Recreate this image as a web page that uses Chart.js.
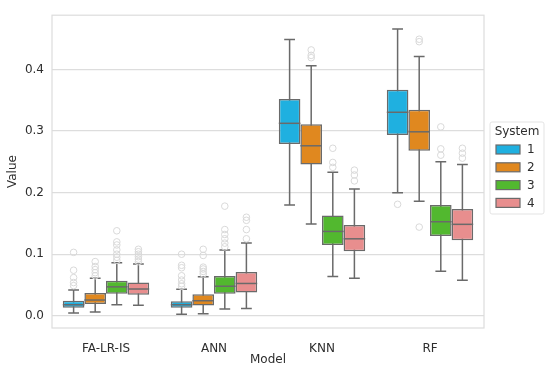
<!DOCTYPE html>
<html>
<head>
<meta charset="utf-8">
<script src="https://cdn.jsdelivr.net/npm/chart.js@4/dist/chart.umd.min.js"></script>
<style>
    html, body { margin: 0; padding: 0; background: #fff; }
    #wrap { width: 550px; height: 371px; }
</style>
</head>
<body>
<div id="wrap"><canvas id="chart"></canvas></div>
<script>
// categories and series
const models = ['FA-LR-IS', 'ANN', 'KNN', 'RF'];
const systems = ['1', '2', '3', '4'];
const yTicks = [0.0, 0.1, 0.2, 0.3, 0.4];

// box stats per system: [whiskerLow, q1, median, q3, whiskerHigh] for each model
const sys1Stats = [
    [0.0045, 0.013, 0.018, 0.0245, 0.042],
    [0.0024, 0.013, 0.018, 0.0235, 0.043],
    [0.180, 0.279, 0.3125, 0.352, 0.4486],
    [0.1997, 0.2935, 0.3304, 0.3668, 0.4655]
];
const sys2Stats = [
    [0.006, 0.019, 0.0256, 0.037, 0.061],
    [0.0035, 0.0166, 0.0245, 0.035, 0.0636],
    [0.149, 0.2455, 0.276, 0.311, 0.406],
    [0.186, 0.268, 0.2987, 0.3346, 0.421]
];
const sys3Stats = [
    [0.018, 0.036, 0.047, 0.057, 0.086],
    [0.011, 0.036, 0.048, 0.0646, 0.107],
    [0.064, 0.115, 0.137, 0.1627, 0.233],
    [0.0725, 0.1295, 0.1527, 0.180, 0.250]
];
const sys4Stats = [
    [0.017, 0.034, 0.0435, 0.054, 0.084],
    [0.012, 0.038, 0.0525, 0.071, 0.118],
    [0.061, 0.1047, 0.125, 0.1475, 0.206],
    [0.0578, 0.1226, 0.1485, 0.1733, 0.2456]
];

// outliers per system, per model
const sys1Outliers = [
    [0.049, 0.054, 0.062, 0.074, 0.103],
    [0.048, 0.052, 0.058, 0.065, 0.078, 0.082, 0.100],
    [],
    [0.181]
];
const sys2Outliers = [
    [0.065, 0.070, 0.075, 0.080, 0.088],
    [0.068, 0.072, 0.076, 0.079, 0.098, 0.108],
    [0.419, 0.4228, 0.4316],
    [0.144, 0.445, 0.449]
];
const sys3Outliers = [
    [0.090, 0.095, 0.100, 0.107, 0.115, 0.120, 0.138],
    [0.112, 0.118, 0.125, 0.132, 0.140, 0.178],
    [0.241, 0.249, 0.272],
    [0.2608, 0.271, 0.3067]
];
const sys4Outliers = [
    [0.088, 0.092, 0.096, 0.100, 0.104, 0.108],
    [0.125, 0.140, 0.155, 0.160],
    [0.219, 0.2286, 0.2365],
    [0.256, 0.264, 0.272]
];

const allStats = [sys1Stats, sys2Stats, sys3Stats, sys4Stats];
const allOutliers = [sys1Outliers, sys2Outliers, sys3Outliers, sys4Outliers];
const colors = ['#1fb0e0', '#e0881f', '#52b82f', '#e88e8e'];
const edge = '#6a6a6a';
const textColor = '#2e2e2e';
const font = 'DejaVu Sans';

const datasets = systems.map((s, i) => ({
    label: s,
    data: allStats[i].map(st => [st[1], st[3]]),
    backgroundColor: colors[i],
    borderColor: edge,
    borderWidth: 1.5,
    borderSkipped: false,
    categoryPercentage: 0.8,
    barPercentage: 1.0
}));

// whiskers, medians, outliers, frame and legend
const boxPlugin = {
    id: 'boxExtras',
    beforeDatasetsDraw(chart) {
        const { ctx } = chart;
        const y = chart.scales.y;
        ctx.save();
        ctx.lineWidth = 1.5;
        ctx.strokeStyle = edge;
        // whiskers go behind the boxes
        chart.data.datasets.forEach((ds, di) => {
            chart.getDatasetMeta(di).data.forEach((bar, j) => {
                const st = allStats[di][j];
                const half = bar.width / 4;
                const lo = y.getPixelForValue(st[0]);
                const hi = y.getPixelForValue(st[4]);
                ctx.beginPath();
                ctx.moveTo(bar.x, lo);
                ctx.lineTo(bar.x, hi);
                ctx.moveTo(bar.x - half, lo);
                ctx.lineTo(bar.x + half, lo);
                ctx.moveTo(bar.x - half, hi);
                ctx.lineTo(bar.x + half, hi);
                ctx.stroke();
            });
        });
        ctx.restore();
    },
    afterDatasetsDraw(chart) {
        const { ctx, chartArea: a } = chart;
        const y = chart.scales.y;
        ctx.save();
        chart.data.datasets.forEach((ds, di) => {
            chart.getDatasetMeta(di).data.forEach((bar, j) => {
                const st = allStats[di][j];
                const w = bar.width;
                ctx.strokeStyle = edge;
                ctx.lineWidth = 1.5;
                ctx.beginPath();
                ctx.moveTo(bar.x - w / 2, y.getPixelForValue(st[2]));
                ctx.lineTo(bar.x + w / 2, y.getPixelForValue(st[2]));
                ctx.stroke();
                ctx.strokeStyle = '#d9d9d9';
                ctx.lineWidth = 1;
                allOutliers[di][j].forEach(v => {
                    ctx.beginPath();
                    ctx.arc(bar.x, y.getPixelForValue(v), 3.3, 0, Math.PI * 2);
                    ctx.stroke();
                });
            });
        });
        // axes frame
        ctx.strokeStyle = '#dddddd';
        ctx.lineWidth = 1.2;
        ctx.strokeRect(a.left, a.top, a.right - a.left, a.bottom - a.top);

        // legend
        const lx = a.right + 6, ly = 122, lw = 54, lh = 92;
        ctx.fillStyle = 'rgba(255,255,255,0.9)';
        ctx.strokeStyle = '#e3e3e3';
        ctx.lineWidth = 1;
        ctx.beginPath();
        ctx.roundRect(lx, ly, lw, lh, 2);
        ctx.fill();
        ctx.stroke();
        ctx.fillStyle = textColor;
        ctx.font = '12px "' + font + '"';
        ctx.textAlign = 'center';
        ctx.textBaseline = 'middle';
        ctx.fillText('System', lx + lw / 2, ly + 10);
        systems.forEach((s, i) => {
            const cy = ly + 27.5 + i * 17.8;
            ctx.fillStyle = colors[i];
            ctx.fillRect(lx + 6, cy - 4.5, 24, 9);
            ctx.strokeStyle = edge;
            ctx.lineWidth = 1.2;
            ctx.strokeRect(lx + 6, cy - 4.5, 24, 9);
            ctx.fillStyle = textColor;
            ctx.textAlign = 'left';
            ctx.fillText(s, lx + 37, cy + 0.5);
        });
        ctx.restore();
    }
};

new Chart(document.getElementById('chart'), {
    type: 'bar',
    data: { labels: models, datasets },
    options: {
        responsive: true,
        maintainAspectRatio: false,
        animation: false,
        layout: { padding: { top: 7, right: 66, left: 0, bottom: 0 } },
        plugins: {
            legend: { display: false },
            tooltip: { enabled: false }
        },
        scales: {
            x: {
                grid: { display: false },
                border: { display: false },
                ticks: { color: textColor, font: { family: font, size: 12 }, padding: 6 },
                title: { display: true, text: 'Model', color: textColor, font: { family: font, size: 12 }, padding: { top: 0, bottom: 4 } },
                afterFit(scale) { scale.height = 43; }
            },
            y: {
                min: -0.0198,
                max: 0.488,
                grid: { color: '#dddddd', lineWidth: 1.2, drawTicks: false },
                border: { display: false },
                afterBuildTicks(scale) { scale.ticks = yTicks.map(v => ({ value: v })); },
                ticks: {
                    color: textColor,
                    font: { family: font, size: 12 },
                    padding: 8,
                    callback: v => v.toFixed(1)
                },
                title: { display: true, text: 'Value', color: textColor, font: { family: font, size: 12 }, padding: { top: 6, bottom: 0 } },
                afterFit(scale) { scale.width = 52; }
            }
        }
    },
    plugins: [boxPlugin]
});
</script>
</body>
</html>
